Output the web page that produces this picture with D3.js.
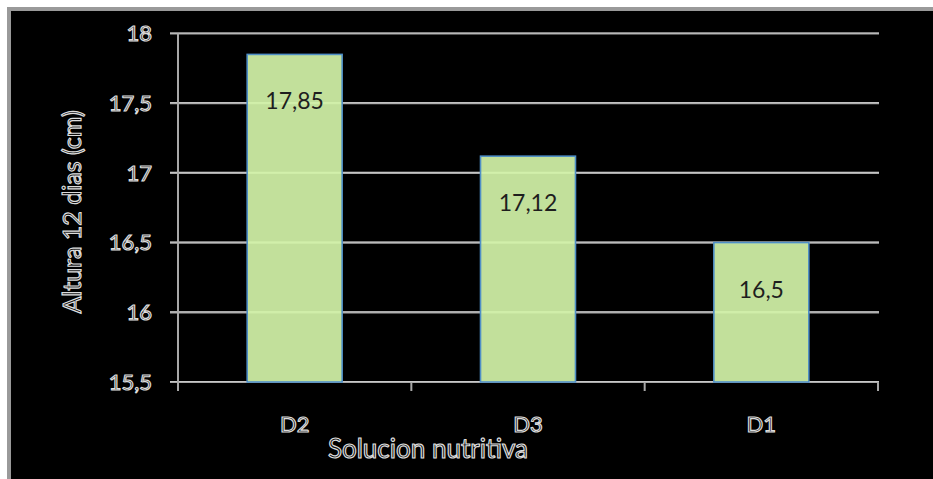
<!DOCTYPE html>
<html>
<head>
<meta charset="utf-8">
<script src="https://cdn.jsdelivr.net/npm/d3@7"></script>
<style>
  html, body { margin: 0; padding: 0; background: #fff; }
  svg { display: block; }
  .outline { fill: #0a0a0a; stroke: #dcdcdc; stroke-width: 1.2px; font-family: Lato, "Open Sans", sans-serif; }
</style>
</head>
<body>
<svg id="chart" width="933" height="479"></svg>
<script>
// Altura a los 12 días por solución nutritiva
const categories = ["D2", "D3", "D1"];
const values = [17.85, 17.12, 16.5];
const valueLabels = ["17,85", "17,12", "16,5"];
const yTicks = [15.5, 16, 16.5, 17, 17.5, 18];
const yTickLabels = ["15,5", "16", "16,5", "17", "17,5", "18"];
const yTitle = "Altura 12 dias (cm)";
const xTitle = "Solucion nutritiva";

const W = 933, H = 479;
const plot = { left: 178, right: 878, top: 33.5, bottom: 382 };

const svg = d3.select("#chart");

// frame: white margin, grey border, black chart area
svg.append("rect").attr("x", 0).attr("y", 0).attr("width", W).attr("height", H).attr("fill", "#fff");
svg.append("rect").attr("x", 7).attr("y", 7).attr("width", W - 7).attr("height", H - 7).attr("fill", "#9a9a9a");
svg.append("rect").attr("x", 11).attr("y", 11).attr("width", W - 11).attr("height", H - 11).attr("fill", "#000");

const x = d3.scaleBand().domain(categories).range([plot.left, plot.right]).paddingInner(0.593).paddingOuter(0.2965);
const xEdges = d3.scaleBand().domain(categories).range([plot.left, plot.right]).padding(0);
const y = d3.scaleLinear().domain([15.5, 18]).range([plot.bottom, plot.top]);

// horizontal gridlines with tick stubs on the left
const grid = svg.append("g");
grid.selectAll("line").data(yTicks).join("line")
  .attr("x1", plot.left - 8).attr("x2", plot.right + 1)
  .attr("y1", d => y(d)).attr("y2", d => y(d))
  .attr("stroke", "#a8a8a8").attr("stroke-width", 2.2);
grid.selectAll("line.hi").data(yTicks).join("line").attr("class", "hi")
  .attr("x1", plot.left - 8).attr("x2", plot.right + 1)
  .attr("y1", d => y(d) - 0.5).attr("y2", d => y(d) - 0.5)
  .attr("stroke", "#d0d0d0").attr("stroke-width", 0.8);

// vertical axis line
svg.append("line").attr("x1", plot.left).attr("x2", plot.left)
  .attr("y1", plot.top).attr("y2", plot.bottom + 8)
  .attr("stroke", "#a8a8a8").attr("stroke-width", 2);

// category tick marks below the baseline
const edgeVals = categories.map(c => xEdges(c)).concat([plot.right]);
svg.append("g").selectAll("line").data(edgeVals).join("line")
  .attr("x1", d => d).attr("x2", d => d)
  .attr("y1", plot.bottom).attr("y2", plot.bottom + 9)
  .attr("stroke", "#a8a8a8").attr("stroke-width", 2);

// bars
svg.append("g").selectAll("rect").data(values).join("rect")
  .attr("x", (d, i) => x(categories[i]))
  .attr("y", d => y(d))
  .attr("width", x.bandwidth())
  .attr("height", d => plot.bottom - y(d))
  .attr("fill", "#d3f3a8").attr("fill-opacity", 0.92)
  .attr("stroke", "#4f8fc6").attr("stroke-width", 1.6);

// value labels inside bars
svg.append("g").selectAll("text").data(values).join("text")
  .attr("x", (d, i) => x(categories[i]) + x.bandwidth() / 2)
  .attr("y", d => y(d) + 47)
  .attr("dy", "0.35em")
  .attr("text-anchor", "middle")
  .attr("font-family", "Lato, 'Open Sans', sans-serif")
  .attr("font-size", 23)
  .attr("fill", "#1e1e1e")
  .text((d, i) => valueLabels[i]);

// y tick labels
svg.append("g").selectAll("text").data(yTicks).join("text")
  .attr("class", "outline")
  .attr("x", 152).attr("y", d => y(d))
  .attr("dy", "0.35em").attr("text-anchor", "end")
  .attr("font-size", 22)
  .text((d, i) => yTickLabels[i]);

// x category labels
svg.append("g").selectAll("text").data(categories).join("text")
  .attr("class", "outline")
  .attr("x", d => x(d) + x.bandwidth() / 2).attr("y", 424)
  .attr("dy", "0.35em").attr("text-anchor", "middle")
  .attr("font-size", 22)
  .text(d => d);

// axis titles
svg.append("text").attr("class", "outline")
  .attr("x", 428).attr("y", 449).attr("dy", "0.35em")
  .attr("text-anchor", "middle").attr("font-size", 26)
  .text(xTitle);

svg.append("text").attr("class", "outline")
  .attr("transform", "translate(72,212) rotate(-90)")
  .attr("dy", "0.35em").attr("text-anchor", "middle").attr("font-size", 25)
  .text(yTitle);
</script>
</body>
</html>
